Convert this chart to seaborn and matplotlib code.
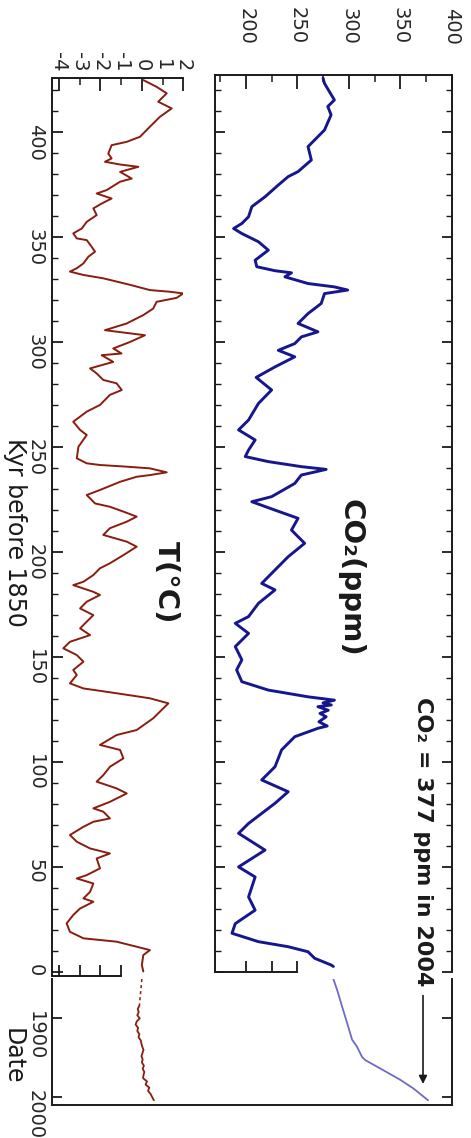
import numpy as np
import pandas as pd
import matplotlib
matplotlib.use("Agg")
import matplotlib.pyplot as plt
import seaborn as sns

# ---------------- data ----------------
# Temperature anomaly (deg C) vs thousands of years before 1850
t_kyr = [424.6, 421.4, 418.3, 414.3, 411.1, 407.1, 402.4, 397.6, 395.2, 393.6,
         389.6, 387.3, 385.7, 384.4, 383.3, 380.9, 377.7, 376.2, 372.2, 370.6,
         368.2, 365.8, 363.5, 360.3, 357.1, 353.9, 351.6, 349.2, 348.4, 345.2,
         342.9, 340.5, 337.3, 335.0, 333.4, 331.8, 330.2, 327.1, 324.6, 323.8,
         323.0, 320.9, 319.0, 315.8, 312.7, 308.7, 305.5, 304.4, 303.1, 299.9,
         296.8, 294.4, 293.6, 290.4, 287.3, 284.9, 281.8, 280.2, 277.0, 274.7,
         269.9, 266.7, 261.9, 258.0, 255.6, 250.0, 244.5, 242.1, 241.3, 240.5,
         239.7, 237.8, 236.5, 235.7, 233.3, 229.4, 227.0, 223.0, 221.4, 219.1,
         216.7, 214.3, 211.2, 208.0, 204.8, 202.4, 198.4, 194.5, 192.1, 188.9,
         185.7, 184.1, 180.9, 179.4, 176.2, 173.0, 169.8, 166.7, 163.5, 160.3,
         157.1, 154.0, 150.8, 147.6, 143.7, 141.3, 137.3, 134.9, 132.6, 130.2,
         127.8, 123.8, 120.7, 115.1, 112.7, 108.0, 105.6, 101.6, 97.6, 93.6,
         90.5, 87.3, 84.9, 80.9, 77.8, 76.2, 73.0, 71.4, 69.0, 65.1,
         61.9, 58.7, 56.3, 53.9, 49.2, 46.0, 44.4, 42.0, 38.0, 34.9,
         33.3, 30.1, 27.0, 23.0, 19.0, 15.9, 14.3, 11.9, 10.3, 7.9,
         3.2, 0.1]
t_val = [0.07, 0.71, 1.20, 0.79, 1.44, 0.87, 0.39, -0.09, -0.73, -1.46,
         -1.62, -1.46, -1.78, -1.05, -0.17, -1.05, -0.49, -1.05, -1.70, -2.18,
         -1.46, -1.94, -2.34, -2.18, -2.66, -2.90, -3.31, -3.14, -2.66, -2.42,
         -2.26, -2.58, -2.82, -3.14, -3.47, -2.82, -1.86, -0.57, 0.39, 1.36,
         2.00, 1.68, 0.71, 0.55, 0.07, -0.73, -1.78, -0.89, 0.15, -0.57,
         -1.38, -0.98, -1.94, -1.38, -2.50, -2.18, -1.86, -1.22, -0.97, -1.54,
         -2.02, -2.66, -3.31, -2.98, -2.66, -3.06, -3.14, -2.66, -2.02, -0.73,
         0.39, 1.20, 0.39, -0.25, -1.05, -2.02, -2.66, -2.26, -1.54, -0.89,
         -0.25, -0.73, -1.54, -1.86, -0.73, -0.25, -0.89, -1.54, -2.02, -2.34,
         -2.82, -3.31, -2.34, -2.02, -2.66, -2.98, -2.34, -2.66, -2.98, -2.50,
         -3.47, -3.79, -3.14, -2.82, -3.31, -3.14, -3.47, -2.82, -1.22, 0.39,
         1.28, 0.87, 0.55, -0.25, -1.22, -2.02, -1.05, -0.89, -1.54, -1.86,
         -2.18, -1.22, -0.73, -1.54, -2.34, -1.86, -1.54, -2.34, -2.82, -3.47,
         -3.14, -2.50, -1.54, -2.18, -2.02, -2.66, -3.14, -2.34, -2.50, -2.82,
         -2.34, -2.98, -3.31, -3.63, -3.47, -2.82, -1.22, -0.25, 0.39, 0.07,
         0.00, 0.07]

# CO2 (ppm) vs thousands of years before 1850
co2_kyr = [425.5, 423.0, 415.1, 412.0, 408.0, 400.8, 392.9, 386.5, 381.0, 378.6,
           374.6, 369.0, 364.3, 359.5, 356.3, 353.9, 351.5, 347.6, 343.6, 338.8,
           335.7, 333.8, 332.8, 330.9, 327.7, 326.1, 324.6, 322.9, 318.2, 313.4,
           308.7, 304.7, 302.3, 299.1, 295.9, 292.8, 288.0, 283.0, 277.0, 270.6,
           262.7, 258.0, 253.2, 248.4, 245.3, 242.9, 240.5, 239.2, 236.5, 232.5,
           226.2, 223.8, 219.8, 215.9, 210.3, 204.0, 197.6, 191.3, 184.9, 181.8,
           175.4, 169.1, 165.9, 161.1, 154.8, 148.5, 143.7, 138.1, 134.1, 130.9,
           129.3, 128.0, 127.0, 126.2, 124.5, 123.0, 121.4, 119.0, 117.0, 115.9,
           111.9, 105.6, 97.6, 91.3, 85.7, 80.2, 70.6, 65.9, 57.9, 49.9,
           45.1, 35.6, 29.3, 22.9, 18.3, 14.3, 11.9, 9.5, 6.4, 3.2, 2.5]
co2_val = [275.0, 276.4, 286.0, 279.6, 282.8, 276.4, 260.4, 263.6, 250.7, 241.1,
           231.5, 218.6, 205.8, 202.6, 196.1, 188.1, 196.1, 212.2, 221.8, 209.0,
           210.6, 228.3, 244.3, 237.9, 260.4, 286.0, 298.9, 276.4, 273.2, 260.4,
           250.7, 270.0, 254.0, 247.5, 231.5, 247.5, 228.3, 210.0, 225.0, 212.2,
           202.6, 192.9, 209.0, 202.6, 199.4, 221.8, 253.9, 278.0, 253.9, 247.5,
           225.0, 205.8, 228.3, 250.7, 244.3, 257.1, 241.1, 228.3, 215.4, 228.3,
           212.2, 202.6, 189.7, 202.6, 189.7, 196.1, 191.0, 196.1, 221.8, 260.4,
           286.0, 275.0, 283.0, 270.0, 280.0, 272.0, 278.0, 271.0, 279.0, 270.0,
           247.5, 234.7, 228.3, 215.4, 241.1, 228.3, 202.6, 192.9, 218.6, 192.9,
           209.0, 202.6, 209.0, 189.7, 186.5, 212.2, 241.1, 260.4, 266.8, 282.8, 285.0]

# Instrumental period (right-hand "Date" panel)
date_t_year_gap = [1850, 1884]
date_t_val_gap = [0.00, -0.12]
date_t_year = [1884, 1888, 1892, 1896, 1900, 1904, 1908, 1912, 1916, 1920,
               1924, 1928, 1932, 1936, 1940, 1944, 1948, 1952, 1956, 1960,
               1964, 1968, 1972, 1976, 1980, 1984, 1988, 1992, 1996, 2000, 2004]
date_t_val = [-0.12, -0.20, -0.15, -0.22, -0.10, -0.25, -0.30, -0.18, -0.22, -0.12,
              -0.16, -0.05, -0.02, 0.02, 0.08, 0.03, -0.02, 0.04, 0.00, 0.10,
              0.04, 0.12, 0.08, 0.06, 0.25, 0.18, 0.36, 0.30, 0.42, 0.50, 0.58]
date_co2_year = [1850, 1864, 1885, 1906, 1927, 1936, 1949, 1953, 1966, 1978, 1989, 2004]
date_co2_val = [285.0, 288.7, 293.5, 298.4, 303.2, 308.0, 312.9, 316.0, 333.8, 350.0, 362.8, 377.0]

# tick labels
kyr_ticks = [0, 50, 100, 150, 200, 250, 300, 350, 400]
co2_ticks = [200, 250, 300, 350, 400]
co2_minor = [175, 225, 275, 325, 375]
co2_bottom_ticks = [200, 225, 250]
t_ticks_major = [-4, -2, 0, 2]
t_ticks_minor = [-3, -1, 1]
t_bottom_ticks = [-4, -3, -2, -1]
date_ticks = [1900, 2000]

# ---------------- style ----------------
sns.set_style("ticks")
plt.rcParams["font.family"] = ["DejaVu Sans"]
plt.rcParams["axes.unicode_minus"] = False

BLUE = "#16168e"
RED = "#8a1c10"
LIGHT_BLUE = "#6c6cc8"
INK = "#1a1a1a"
SPW = 1.4

W, H = 471, 1138
fig = plt.figure(figsize=(W / 100, H / 100), dpi=100)


def box(x0, x1, ytop, ybot):
    return [x0 / W, 1 - ybot / H, (x1 - x0) / W, (ybot - ytop) / H]


C_X0, C_X1 = 215.0, 451.7
T_X0, T_X1 = 51.7, 183.3
D_TOP, D_BOT = 979.0, 1105.0
C_LIM = (170, 400)
T_LIM = (-4.35, 2)
DATE_LIM = (2010, 1850)


def style_spines(ax):
    for s in ax.spines.values():
        s.set_linewidth(SPW)
        s.set_color(INK)


# ---------------- CO2 panel ----------------
axC = fig.add_axes(box(C_X0, C_X1, 75.0, 971.7))
dfC = pd.DataFrame({"co2": co2_val, "kyr": co2_kyr})
sns.lineplot(data=dfC, x="co2", y="kyr", sort=False, estimator=None, orient="y",
             color=BLUE, lw=2.1, ax=axC)
axC.set_xlim(*C_LIM)
axC.set_ylim(0, 427)
axC.set_xlabel("")
axC.set_ylabel("")
style_spines(axC)
axC.spines["bottom"].set_visible(False)
axC.set_xticks(co2_ticks, labels=[str(v) for v in co2_ticks])
axC.set_xticks(co2_minor, minor=True)
axC.set_yticks(kyr_ticks)
axC.set_yticks(np.arange(0, 427, 10), minor=True)
axC.xaxis.set_ticks_position("top")
axC.tick_params(axis="x", which="both", direction="in", top=True, bottom=False,
                labeltop=True, labelbottom=False, labelrotation=-90, pad=22,
                labelsize=14, color=INK)
axC.tick_params(axis="x", which="major", length=10, width=1.3)
axC.tick_params(axis="x", which="minor", length=5, width=1.1)
axC.tick_params(axis="y", which="both", direction="in", left=True, right=True,
                labelleft=False, labelright=False, color=INK)
axC.tick_params(axis="y", which="major", length=7, width=1.3)
axC.tick_params(axis="y", which="minor", length=4, width=1.0)
secC = axC.secondary_xaxis("bottom")
secC.set_xticks(co2_bottom_ticks)
secC.tick_params(direction="in", length=8, width=1.3, labelbottom=False, color=INK)
secC.spines["bottom"].set_bounds(C_LIM[0], 250)
secC.spines["bottom"].set_linewidth(SPW)
secC.spines["bottom"].set_color(INK)

# ---------------- Temperature panel ----------------
axT = fig.add_axes(box(T_X0, T_X1, 78.2, 975.9))
dfT = pd.DataFrame({"T": t_val, "kyr": t_kyr})
sns.lineplot(data=dfT, x="T", y="kyr", sort=False, estimator=None, orient="y",
             color=RED, lw=1.4, ax=axT)
axT.set_xlim(*T_LIM)
axT.set_ylim(-2, 425.5)
axT.set_xlabel("")
axT.set_ylabel("")
style_spines(axT)
axT.spines["bottom"].set_visible(False)
axT.spines["right"].set_visible(False)
axT.set_xticks(t_ticks_major, labels=[str(v) for v in t_ticks_major])
axT.set_xticks(t_ticks_minor, labels=[str(v) for v in t_ticks_minor], minor=True)
axT.set_yticks(kyr_ticks, labels=[str(v) for v in kyr_ticks])
axT.set_yticks(np.arange(0, 425, 10), minor=True)
axT.xaxis.set_ticks_position("top")
axT.tick_params(axis="x", which="both", direction="in", top=True, bottom=False,
                labeltop=True, labelbottom=False, labelrotation=-90, pad=5,
                labelsize=14, color=INK)
axT.tick_params(axis="x", which="major", length=9, width=1.3)
axT.tick_params(axis="x", which="minor", length=5, width=1.1)
axT.tick_params(axis="y", which="both", direction="in", left=True, right=False,
                labelleft=True, labelrotation=-90, pad=5, labelsize=14, color=INK)
axT.tick_params(axis="y", which="major", length=8, width=1.3)
axT.tick_params(axis="y", which="minor", length=4, width=1.0)
secT = axT.secondary_xaxis("bottom")
secT.set_xticks(t_bottom_ticks)
secT.tick_params(direction="in", length=8, width=1.3, labelbottom=False, color=INK)
secT.spines["bottom"].set_bounds(T_LIM[0], -1)
secT.spines["bottom"].set_linewidth(SPW)
secT.spines["bottom"].set_color(INK)

# ---------------- Date panel (frame) ----------------
axD = fig.add_axes(box(T_X0, C_X1, D_TOP, D_BOT))
axD.set_xlim(0, 1)
axD.set_ylim(*DATE_LIM)
axD.set_xticks([])
axD.set_yticks(date_ticks, labels=[str(v) for v in date_ticks])
style_spines(axD)
axD.spines["top"].set_visible(False)
axD.tick_params(axis="y", direction="in", left=True, right=True, length=7, width=1.3,
                labelrotation=-90, pad=5, labelsize=14, color=INK)

axDT = fig.add_axes(box(T_X0, T_X1, D_TOP, D_BOT))
axDT.set_axis_off()
sns.lineplot(x=date_t_val_gap, y=date_t_year_gap, sort=False, estimator=None,
             orient="y", color=RED, lw=1.1, ax=axDT, linestyle=(0, (2, 2)))
sns.lineplot(x=date_t_val, y=date_t_year, sort=False, estimator=None,
             orient="y", color=RED, lw=1.3, ax=axDT)
axDT.set_xlim(*T_LIM)
axDT.set_ylim(*DATE_LIM)

axDC = fig.add_axes(box(C_X0, C_X1, D_TOP, D_BOT))
axDC.set_axis_off()
sns.lineplot(x=date_co2_val, y=date_co2_year, sort=False, estimator=None,
             orient="y", color=LIGHT_BLUE, lw=1.3, ax=axDC)
axDC.set_xlim(*C_LIM)
axDC.set_ylim(*DATE_LIM)

# ---------------- text ----------------
fig.text(15 / W, 1 - 532 / H, "Kyr before 1850", rotation=-90, ha="center",
         va="center", fontsize=17, color=INK)
fig.text(13 / W, 1 - 1056 / H, "Date", rotation=-90, ha="center", va="center",
         fontsize=17, color=INK)
fig.text(350 / W, 1 - 578 / H, "CO\u2082(ppm)", rotation=-90, ha="center",
         va="center", fontsize=21, fontweight="bold", color=INK)
fig.text(166 / W, 1 - 582 / H, "T(\u00b0C)", rotation=-90, ha="center",
         va="center", fontsize=21, fontweight="bold", color=INK)
axDC.annotate("CO\u2082 = 377 ppm in 2004", xy=(423 / W, 1 - 1084 / H),
              xycoords="figure fraction", xytext=(423 / W, 1 - 842 / H),
              textcoords="figure fraction", rotation=-90, ha="center", va="center",
              fontsize=16, fontweight="bold", color=INK, annotation_clip=False,
              arrowprops=dict(arrowstyle="-|>", color=INK, lw=1.2,
                              mutation_scale=12, shrinkA=4, shrinkB=0))

fig.savefig("out.png", dpi=100)
